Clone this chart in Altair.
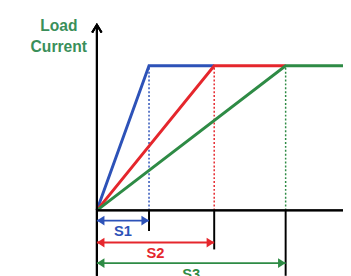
import altair as alt
import pandas as pd

# Data: switching distances (time units) and load current profiles
s_names = ["S1", "S2", "S3"]
s_values = [1.0, 2.25, 3.62]
s_colors = ["#2d52b8", "#e5262c", "#2e8b45"]
x_end = 4.72
current_max = 1.0

rows = []
for i, (name, s) in enumerate(zip(s_names, s_values)):
    nxt = s_values[i + 1] if i + 1 < len(s_values) else x_end
    rows += [
        {"series": name, "x": 0.0, "y": 0.0, "o": 0},
        {"series": name, "x": s, "y": current_max, "o": 1},
        {"series": name, "x": nxt, "y": current_max, "o": 2},
    ]
lines_df = pd.DataFrame(rows)
s_df = pd.DataFrame({"series": s_names, "s": s_values, "half": [v / 2 for v in s_values],
                     "zero": [0.0] * 3, "top": [current_max] * 3})

W, H = 252, 148
xs = alt.Scale(domain=[0, x_end], nice=False, zero=False)
ys = alt.Scale(domain=[0, current_max], nice=False)
cscale = alt.Scale(domain=s_names, range=s_colors)

X = lambda f: alt.X(f, type="quantitative", scale=xs, axis=None)
Y = lambda f: alt.Y(f, type="quantitative", scale=ys, axis=None)

# dotted verticals
dotted = alt.Chart(s_df).mark_rule(strokeDash=[2, 2], strokeWidth=1.5).encode(
    x=X("s"), y=Y("zero"), y2="top",
    color=alt.Color("series:N", scale=cscale, legend=None))

# axes
yaxis = alt.Chart(s_df).mark_rule(color="black", strokeWidth=2).encode(
    x=alt.value(0), y=alt.value(-42), y2=alt.value(215))
xaxis = alt.Chart(s_df).mark_rule(color="black", strokeWidth=2).encode(
    x=alt.value(0), x2=alt.value(W), y=alt.value(H))
yarrow = alt.Chart(s_df).mark_point(
    shape="M-0.6,1L0,0L0.6,1", filled=False, color="black", strokeWidth=2, size=256, opacity=1
).encode(x=alt.value(0), y=alt.value(-42))

# profile lines
lines = alt.Chart(lines_df).mark_line(strokeWidth=3).encode(
    x=X("x"), y=Y("y"), order="o:Q",
    color=alt.Color("series:N", scale=cscale, legend=None),
    detail="series:N")

tick_ends = [169, 188, 215]
arrow_ys = [158.5, 181, 202]
label_ys = [174.5, 196.5, 218]

layers = [dotted, lines, xaxis, yaxis, yarrow]
for i, (name, s, c) in enumerate(zip(s_names, s_values, s_colors)):
    d = alt.Chart(s_df[s_df.series == name])
    layers.append(d.mark_rule(color="black", strokeWidth=2).encode(
        x=X("s"), y=alt.value(H), y2=alt.value(tick_ends[i])))
    layers.append(d.mark_rule(color=c, strokeWidth=2).encode(
        x=X("zero"), x2="s", y=alt.value(arrow_ys[i])))
    layers.append(d.mark_point(shape="M0,0L-1,-0.65L-1,0.65Z", filled=True, color=c,
                               size=240, opacity=1).encode(x=X("s"), y=alt.value(arrow_ys[i])))
    layers.append(d.mark_point(shape="M0,0L1,-0.65L1,0.65Z", filled=True, color=c,
                               size=240, opacity=1).encode(x=X("zero"), y=alt.value(arrow_ys[i])))
    layers.append(d.mark_text(color=c, fontWeight="bold", fontSize=15, font="Liberation Sans",
                              baseline="alphabetic", align="center").encode(
        x=X("half"), y=alt.value(label_ys[i]), text="series:N"))

title_df = pd.DataFrame({"t": ["Load", "Current"], "yy": [-36, -14]})
title = alt.Chart(title_df).mark_text(color="#3a8f5a", fontWeight="bold", fontSize=16,
                                      font="Liberation Sans", align="center",
                                      baseline="alphabetic").encode(
    x=alt.value(-39), y=alt.Y("yy:Q", scale=None), text="t:N")
layers.append(title)

chart = alt.layer(*layers).properties(
    width=W, height=H,
    autosize=alt.AutoSizeParams(type="none"),
    padding={"left": 91, "top": 56, "right": 0, "bottom": 64},
    background="white",
).configure_view(stroke=None)

chart.save("out.html", embed_options={"renderer": "svg", "actions": False})
